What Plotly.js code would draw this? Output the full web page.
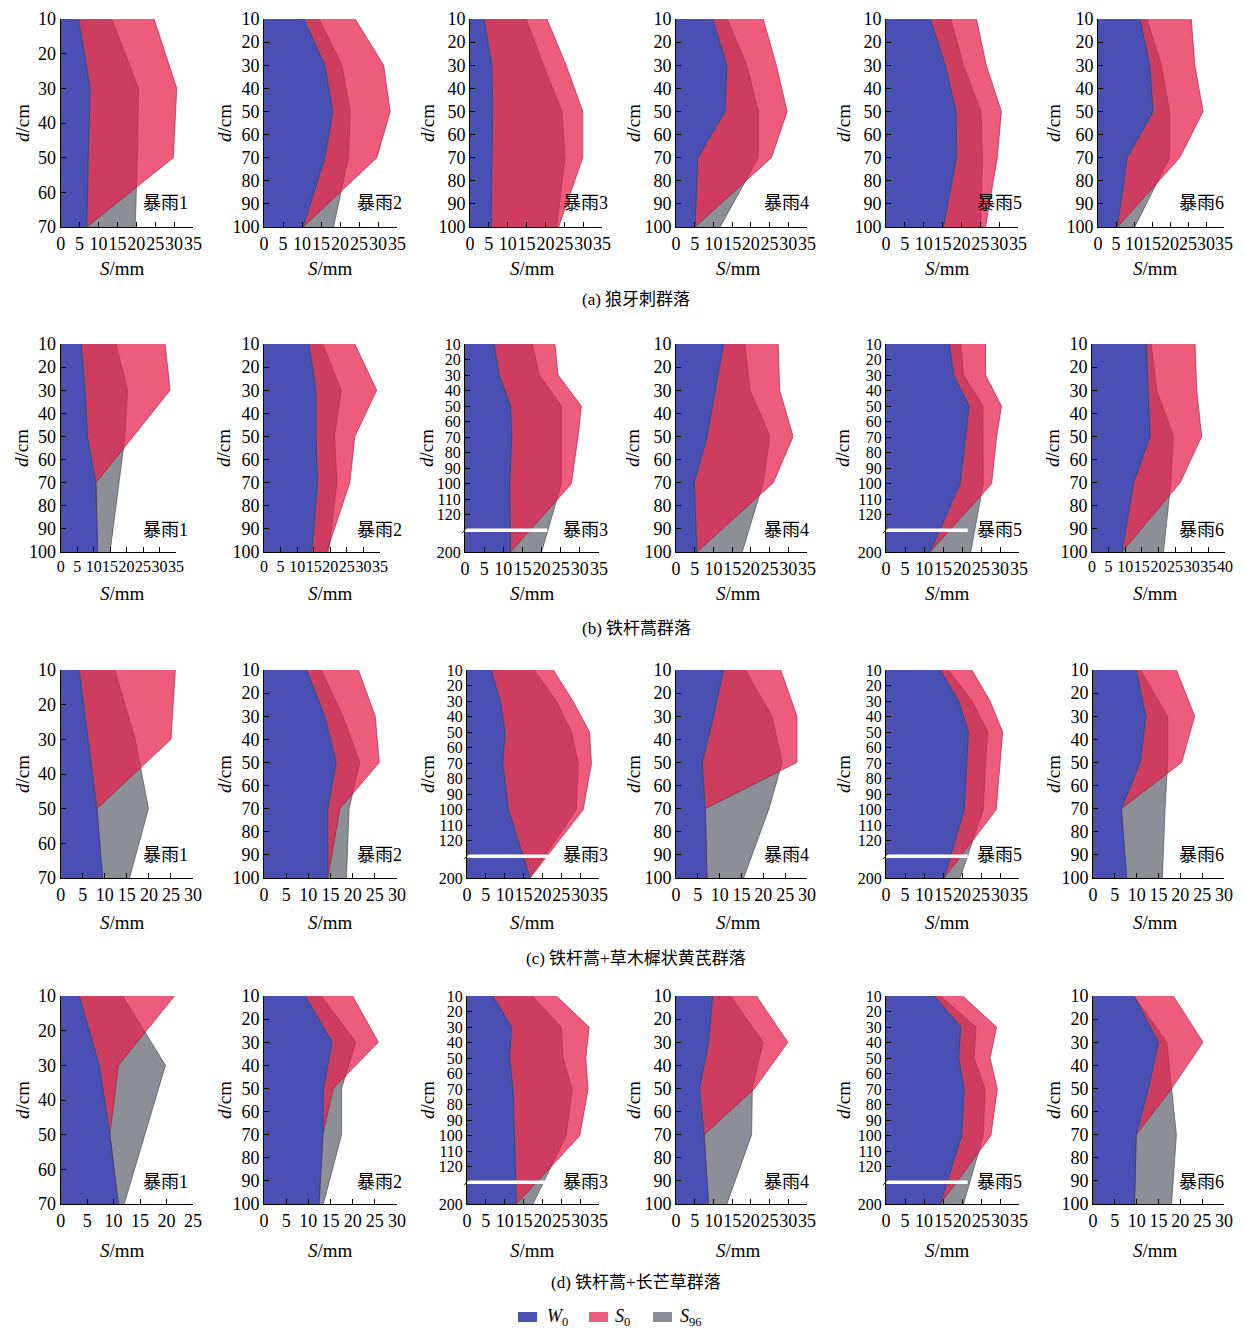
<!DOCTYPE html>
<html><head><meta charset="utf-8">
<script src="https://cdn.plot.ly/plotly-3.0.1.min.js"></script>
<style>html,body{margin:0;padding:0;background:#fff}</style>
</head><body><div id="chart" style="width:1244px;height:1328px"></div>
<script>
// ---------- DATA ----------
const stormLabels = ['暴雨1','暴雨2','暴雨3','暴雨4','暴雨5','暴雨6'];
const groupTitles = ['(a) 狼牙刺群落','(b) 铁杆蒿群落','(c) 铁杆蒿+草木樨状黄芪群落','(d) 铁杆蒿+长芒草群落'];
const seriesNames = ['<i>W</i><sub>0</sub>','<i>S</i><sub>0</sub>','<i>S</i><sub>96</sub>'];

// (a) depths (cm) and storage (mm)
const depth_a = [[10,30,50,70],[10,30,50,70,100],[10,30,50,70,100],[10,30,50,70,100],[10,30,50,70,100],[10,30,50,70,100]];
const W0_a  = [[4.7,7.8,7.3,6.9],[10.5,16.0,18.1,16.0,10.3],[3.7,5.8,6.0,5.9,5.6],[9.8,13.6,13.1,5.8,5.1],[11.7,15.7,18.6,18.7,15.2],[11.6,14.4,15.3,8.1,5.4]];
const S0_a  = [[24.7,30.7,29.8,6.9],[24.0,31.5,33.2,29.7,10.3],[20.4,25.5,29.9,29.9,23.5],[23.3,26.8,29.7,25.5,5.1],[24.0,26.6,30.6,29.5,26.4],[25.9,26.9,29.2,22.7,5.4]];
const S96_a = [[13.5,20.6,20.3,19.7],[14.5,20.5,22.7,22.2,18.3],[14.9,19.5,24.4,25.2,23.0],[13.7,18.9,22.0,22.0,11.8],[17.2,20.5,25.2,25.6,25.1],[13.6,17.6,19.9,19.9,10.2]];

// (b)
const depth_b = [[10,30,50,70,100],[10,30,50,70,100],[10,30,50,70,100,200],[10,30,50,70,100],[10,30,50,70,100,200],[10,30,50,70,100]];
const W0_b  = [[6.2,7.4,8.1,10.7,11.2],[13.5,15.7,15.7,16.2,14.4],[7.6,8.9,11.9,12.2,11.7,11.9],[12.7,10.6,8.3,4.9,5.6],[16.7,17.8,21.9,21.0,19.5,11.6],[16.3,17.0,17.5,12.5,9.0]];
const S0_b  = [[31.7,33.2,22.0,10.7,11.2],[27.4,34.0,27.4,25.9,18.9],[23.5,24.3,30.4,29.5,27.8,11.9],[27.3,27.7,31.3,26.0,5.6],[26.2,26.2,30.4,29.1,27.8,11.6],[31.0,31.5,33.0,26.5,9.0]];
const S96_b = [[16.8,20.3,19.5,17.7,15.0],[17.7,23.3,21.3,22.0,19.5],[17.6,19.4,25.2,25.2,25.2,20.0],[18.4,19.8,25.1,23.3,17.7],[19.7,20.4,25.5,25.6,25.6,22.3],[17.8,19.5,24.5,23.7,21.5]];

// (c)
const depth_c = [[10,30,50,70],[10,30,50,70,100],[10,30,50,70,100,200],[10,30,50,70,100],[10,30,50,70,100,200],[10,30,50,70,100]];
const W0_c  = [[4.2,6.2,8.2,9.5],[9.6,13.7,16.3,14.4,14.4],[6.4,8.8,10.1,9.5,11.0,16.7],[10.9,8.6,6.0,6.7,7.1],[14.3,19.1,21.7,21.3,20.6,15.3],[9.9,12.1,10.8,6.5,7.7]];
const S0_c  = [[26.0,25.0,8.2,9.5],[21.3,25.1,26.0,17.1,14.4],[22.9,28.1,32.5,33.0,30.8,16.7],[24.0,27.7,27.7,6.7,7.1],[22.6,27.4,30.7,30.0,29.0,15.3],[19.1,23.3,20.3,6.5,7.7]];
const S96_c = [[12.3,16.9,19.9,15.6],[12.9,17.8,21.6,19.2,18.6],[17.8,23.7,27.7,29.5,29.0,16.7],[15.9,22.0,24.3,21.3,15.5],[16.4,22.6,26.8,26.2,25.6,19.5],[10.9,17.1,17.1,16.5,15.9]];

// (d)
const depth_d = [[10,30,50,70],[10,30,50,70,100],[10,30,50,70,100,200],[10,30,50,70,100],[10,30,50,70,100,200],[10,30,50,70,100]];
const W0_d  = [[3.5,7.3,9.3,10.9],[9.3,15.4,13.4,13.3,12.4],[6.9,11.8,11.3,12.2,12.6,13.1],[9.8,8.7,6.3,7.5,8.7],[12.7,19.7,19.1,20.6,19.9,14.3],[9.4,15.0,12.7,9.9,9.5]];
const S0_d  = [[21.5,10.9,9.3,10.9],[20.0,25.8,15.6,13.3,12.4],[23.7,32.4,31.5,32.1,29.9,13.1],[21.5,29.9,21.0,7.5,8.7],[20.2,29.1,27.4,29.3,27.6,14.3],[18.4,25.2,18.0,9.9,9.5]];
const S96_d = [[11.7,19.8,15.9,12.0],[12.9,20.7,17.5,17.5,13.4],[17.3,25.0,25.5,27.9,26.3,17.5],[14.6,23.3,20.4,20.2,13.6],[14.3,23.7,23.2,26.1,25.6,20.4],[9.4,16.9,18.0,19.1,18.0]];

// x-axis maxima (mm) per panel
const xMax = [[35,35,35,35,35,35],[35,35,35,35,35,40],[30,30,35,30,35,30],[25,30,35,35,35,30]];

// ---------- LAYOUT GEOMETRY ----------
const W = 1244, H = 1328;
const rows = [
  {d: depth_a, w: W0_a, s0: S0_a, s96: S96_a},
  {d: depth_b, w: W0_b, s0: S0_b, s96: S96_b},
  {d: depth_c, w: W0_c, s0: S0_c, s96: S96_c},
  {d: depth_d, w: W0_d, s0: S0_d, s96: S96_d}
];
const rowTop = [19, 344, 670, 996];
const rowBot = [227, 552, 878, 1204];
const colLeft  = [[60.7,264,470,676,886,1098],[60.7,264,465,676,886,1092],[60.7,264,467,676,886,1093],[60.7,264,467,676,886,1093]];
const colRight = [[193,397,602,807,1018,1224],[176,380,599,807,1019,1225],[193,397,599,807,1019,1224],[193,397,599,807,1019,1224]];
const labelRight = [190, 404, 610, 811, 1024, 1226];
const labelY = [203, 530, 855, 1182];
const yTitleX = [22, 224, 427, 633, 843, 1053];
const xTitleX = [122, 330, 532, 738, 947, 1155];
const xTitleY = [268, 593, 922, 1250];
const captionY = [299, 628, 958, 1282];

const FONT = 'Liberation Serif, "Times New Roman", "Noto Sans CJK SC", serif';
const BLUE = '#4a4fb4';
const GRAY = '#8c8f96';
const PINK = 'rgba(231,29,73,0.72)';
const EDGE = 'rgba(60,60,60,0.85)';

// broken depth axis: 10..130 linear, 130..200 compressed
const BREAK = 130, COMP = 0.2;
function pos(d){ return d <= BREAK ? d : BREAK + (d - BREAK) * COMP; }

const px = x => x / W;
const py = y => 1 - y / H;

const traces = [];
const layout = {
  width: W, height: H,
  margin: {l:0, r:0, t:0, b:0},
  paper_bgcolor: '#fff', plot_bgcolor: '#fff',
  showlegend: false,
  font: {family: FONT, color: '#000', size: 18},
  annotations: [], shapes: []
};

for (let r = 0; r < 4; r++) {
  for (let c = 0; c < 6; c++) {
    const k = r * 6 + c + 1;
    const xa = k === 1 ? 'x' : 'x' + k;
    const ya = k === 1 ? 'y' : 'y' + k;
    const depths = rows[r].d[c];
    const yv = depths.map(pos);
    const maxD = depths[depths.length - 1];
    const broken = maxD > BREAK;

    const mk = (vals, fill, name) => ({
      type: 'scatter', mode: 'lines', x: vals, y: yv, xaxis: xa, yaxis: ya,
      fill: 'tozerox', fillcolor: fill, line: {color: EDGE, width: 0.7},
      hoverinfo: 'skip', name: name, showlegend: false
    });
    traces.push(mk(rows[r].s96[c], GRAY, 'S96'));
    traces.push(mk(rows[r].s0[c], PINK, 'S0'));
    traces.push(mk(rows[r].w[c], BLUE, 'W0'));

    const xm = xMax[r][c];
    const xt = []; for (let v = 0; v <= xm; v += 5) xt.push(v);
    let yt = [], ytt = [];
    if (broken) {
      for (let v = 10; v <= 120; v += 10) { yt.push(v); ytt.push(String(v)); }
      yt.push(pos(maxD)); ytt.push(String(maxD));
    } else {
      for (let v = 10; v <= maxD; v += 10) { yt.push(v); ytt.push(String(v)); }
    }
    const xkey = 'xaxis' + (k === 1 ? '' : k);
    const ykey = 'yaxis' + (k === 1 ? '' : k);
    const narrow = (colRight[r][c] - colLeft[r][c]) / (xm / 5) < 17.5;
    const common = {
      showline: true, linecolor: '#000', linewidth: 1, mirror: false,
      ticks: 'inside', ticklen: 5, tickwidth: 1, tickcolor: '#000',
      showgrid: false, zeroline: false, fixedrange: true, tickangle: 0
    };
    layout[xkey] = Object.assign({}, common, {
      domain: [px(colLeft[r][c]), px(colRight[r][c])],
      range: [0, xm], anchor: ya, tickmode: 'array', tickvals: xt, ticktext: xt.map(String),
      tickfont: {family: FONT, size: narrow ? 16 : 18, color: '#000'}
    });
    layout[ykey] = Object.assign({}, common, {
      domain: [py(rowBot[r]), py(rowTop[r])],
      range: [pos(maxD), 10], anchor: xa, tickmode: 'array', tickvals: yt, ticktext: ytt,
      tickfont: {family: FONT, size: broken ? 16 : 18, color: '#000'}
    });

    if (broken) {
      layout.shapes.push({type: 'line', xref: xa, yref: ya, x0: -0.6, x1: 21.5, y0: BREAK, y1: BREAK,
        line: {color: '#fff', width: 3.5}, layer: 'above'});
      const yb = rowTop[r] + (BREAK - 10) / (pos(maxD) - 10) * (rowBot[r] - rowTop[r]);
      layout.shapes.push({type: 'line', xref: 'paper', yref: 'paper',
        x0: px(colLeft[r][c] - 3), x1: px(colLeft[r][c] + 2),
        y0: py(yb + 3), y1: py(yb - 3),
        line: {color: '#333', width: 1}});
    }

    // storm label
    layout.annotations.push({xref: 'paper', yref: 'paper', x: px(labelRight[c]), y: py(labelY[r]),
      xanchor: 'right', yanchor: 'middle', showarrow: false, text: stormLabels[c],
      font: {family: FONT, size: 18, color: '#000'}});
    // y title
    layout.annotations.push({xref: 'paper', yref: 'paper', x: px(yTitleX[c]), y: py((rowTop[r] + rowBot[r]) / 2),
      xanchor: 'center', yanchor: 'middle', showarrow: false, textangle: -90, text: '<i>d</i>/cm',
      font: {family: FONT, size: 19, color: '#000'}});
    // x title
    layout.annotations.push({xref: 'paper', yref: 'paper', x: px(xTitleX[c]), y: py(xTitleY[r]),
      xanchor: 'center', yanchor: 'middle', showarrow: false, text: '<i>S</i>/mm',
      font: {family: FONT, size: 19, color: '#000'}});
  }
  layout.annotations.push({xref: 'paper', yref: 'paper', x: px(636), y: py(captionY[r]),
    xanchor: 'center', yanchor: 'middle', showarrow: false, text: groupTitles[r],
    font: {family: FONT, size: 17, color: '#000'}});
}

// legend (manual)
const legColors = [BLUE, '#ee5c7c', GRAY];
const legBoxX = [518, 589, 653];
const legTextX = [545, 613, 678];
for (let i = 0; i < 3; i++) {
  layout.shapes.push({type: 'rect', xref: 'paper', yref: 'paper',
    x0: px(legBoxX[i]), x1: px(legBoxX[i] + 19), y0: py(1322), y1: py(1312),
    fillcolor: legColors[i], line: {width: 0}});
  layout.annotations.push({xref: 'paper', yref: 'paper', x: px(legTextX[i]), y: py(1317),
    xanchor: 'left', yanchor: 'middle', showarrow: false, text: seriesNames[i],
    font: {family: FONT, size: 18, color: '#000'}});
}

Plotly.newPlot('chart', traces, layout, {displayModeBar: false, staticPlot: true});
</script></body></html>
